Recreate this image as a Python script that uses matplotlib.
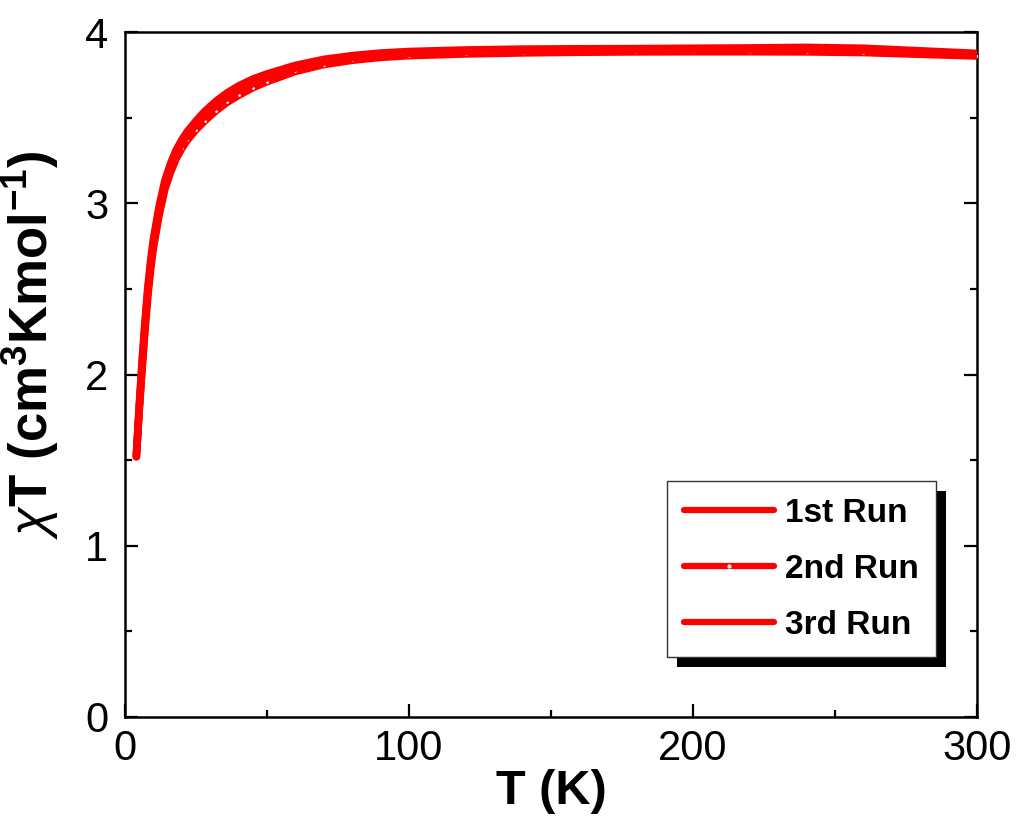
import matplotlib
matplotlib.use("Agg")
import matplotlib.pyplot as plt
from matplotlib.patches import Rectangle
from matplotlib.ticker import MultipleLocator

# ---- data ----
T_run1 = [4, 5, 6, 7, 8, 9, 10, 12, 14, 16, 18, 20, 22, 25, 28, 32, 36, 40, 45, 50,
          60, 70, 80, 90, 100, 120, 140, 160, 180, 200, 220, 240, 260, 280, 300]
chiT_run1 = [1.52, 1.80, 2.05, 2.28, 2.48, 2.64, 2.77, 2.96, 3.11, 3.21, 3.29, 3.35, 3.40,
             3.46, 3.51, 3.57, 3.62, 3.66, 3.70, 3.735, 3.79, 3.825, 3.85, 3.865, 3.875,
             3.885, 3.89, 3.893, 3.895, 3.895, 3.895, 3.897, 3.893, 3.88, 3.87]

T_run2 = [4, 5, 6, 7, 8, 9, 10, 12, 14, 16, 18, 20, 22, 25, 28, 32, 36, 40, 45, 50,
          60, 70, 80, 90, 100, 120, 140, 160, 180, 200, 220, 240, 260, 280, 300]
chiT_run2 = [1.53, 1.79, 2.03, 2.25, 2.45, 2.61, 2.74, 2.93, 3.08, 3.18, 3.26, 3.32, 3.37,
             3.43, 3.48, 3.54, 3.59, 3.63, 3.675, 3.71, 3.77, 3.81, 3.835, 3.852, 3.862,
             3.872, 3.878, 3.882, 3.884, 3.885, 3.885, 3.884, 3.88, 3.87, 3.86]

T_run3 = [4, 5, 6, 7, 8, 9, 10, 12, 14, 16, 18, 20, 22, 25, 28, 32, 36, 40, 45, 50,
          60, 70, 80, 90, 100, 120, 140, 160, 180, 200, 220, 240, 260, 280, 300]
chiT_run3 = [1.52, 1.81, 2.07, 2.30, 2.50, 2.66, 2.79, 2.98, 3.13, 3.23, 3.31, 3.37, 3.42,
             3.48, 3.535, 3.595, 3.645, 3.685, 3.725, 3.755, 3.805, 3.84, 3.862, 3.877,
             3.886, 3.895, 3.9, 3.902, 3.903, 3.905, 3.907, 3.91, 3.905, 3.89, 3.875]

labels = ["1st Run", "2nd Run", "3rd Run"]
x_ticks = [0, 100, 200, 300]
y_ticks = [0, 1, 2, 3, 4]

# ---- style ----
plt.rcParams['font.family'] = ['Liberation Sans', 'DejaVu Sans']
plt.rcParams['mathtext.fontset'] = 'custom'
plt.rcParams['mathtext.rm'] = 'Liberation Sans'
plt.rcParams['mathtext.it'] = 'Liberation Sans:italic'
plt.rcParams['mathtext.bf'] = 'Liberation Sans:bold'

fig = plt.figure(figsize=(10.19, 8.33), dpi=100)
ax = fig.add_axes([125 / 1019, 1 - 717 / 833, (977 - 125) / 1019, (717 - 32) / 833])

red = '#FF0000'
ax.plot(T_run2, chiT_run2, color=red, lw=5.5, solid_capstyle='round', marker='o',
        markersize=1.0, markerfacecolor='white', markeredgecolor='white',
        label=labels[1], zorder=3)
ax.plot(T_run1, chiT_run1, color=red, lw=5.5, solid_capstyle='round', label=labels[0], zorder=3)
ax.plot(T_run3, chiT_run3, color=red, lw=5.5, solid_capstyle='round', label=labels[2], zorder=3)

ax.set_xlim(0, 300)
ax.set_ylim(0, 4)
ax.set_xticks(x_ticks)
ax.set_yticks(y_ticks)
ax.xaxis.set_minor_locator(MultipleLocator(50))
ax.yaxis.set_minor_locator(MultipleLocator(0.5))

for s in ax.spines.values():
    s.set_linewidth(1.8)

ax.tick_params(axis='both', which='major', direction='in', length=9.5, width=1.6,
               labelsize=30, top=False, right=True)
ax.tick_params(axis='both', which='minor', direction='in', length=5, width=1.6,
               top=False, right=True)
ax.tick_params(axis='x', which='major', pad=9)
ax.tick_params(axis='y', which='major', pad=12)

ax.set_xlabel('T (K)', fontsize=35, fontweight='bold', labelpad=0)
ax.set_ylabel(r'$\chi$T (cm$^{\mathbf{3}}$Kmol$^{\mathbf{-1}}$)', fontsize=38,
              fontweight='bold')
ax.yaxis.set_label_coords(-0.075, 0.543)

handles, labs = ax.get_legend_handles_labels()
order = [labs.index(l) for l in labels]
leg = ax.legend([handles[i] for i in order], [labs[i] for i in order],
                loc='upper left', bbox_to_anchor=((667 - 125) / 852, (717 - 481) / 685),
                borderaxespad=0, frameon=True, fancybox=False, framealpha=1,
                edgecolor='#333333', prop={'weight': 'bold', 'size': 24},
                handlelength=2.7, handletextpad=0.35, labelspacing=0.75,
                borderpad=0.5, numpoints=1, markerscale=2.0)
leg.get_frame().set_linewidth(1.0)
leg.set_zorder(6)
for ln in leg.get_lines():
    ln.set_linewidth(4.5)

fig.canvas.draw()
bb = leg.get_window_extent().transformed(ax.transAxes.inverted())
dx = 10 / 852
dy = 10 / 685
ax.add_patch(Rectangle((bb.x0 + dx, bb.y0 - dy), bb.width, bb.height,
                       transform=ax.transAxes, facecolor='black', edgecolor='none',
                       zorder=5, clip_on=False))

fig.savefig('out.png', dpi=100)
